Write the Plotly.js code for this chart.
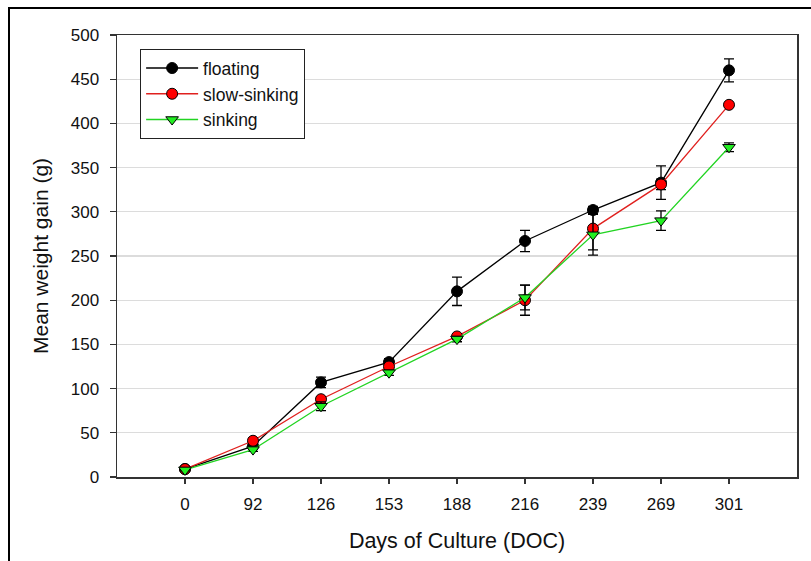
<!DOCTYPE html>
<html>
<head>
<meta charset="utf-8">
<script src="https://cdn.plot.ly/plotly-3.0.1.min.js"></script>
<style>
  html, body { margin: 0; padding: 0; background: #fff; }
  #wrap { position: relative; width: 811px; height: 561px; overflow: hidden; }
  #chart { position: absolute; left: 0; top: 0; width: 811px; height: 561px; }
  #frame { position: absolute; left: 8px; top: 7px; width: 820px; height: 580px;
           border-left: 2px solid #000; border-top: 2px solid #000; pointer-events: none; }
</style>
</head>
<body>
<div id="wrap">
  <div id="chart"></div>
  <div id="frame"></div>
</div>
<script>
const days = ["0", "92", "126", "153", "188", "216", "239", "269", "301"];

const floating     = [9, 35, 107, 130, 210, 267, 302, 333, 460];
const floatingErr  = [2, 3, 6, 4, 16, 12, 4, 19, 13];

const slowSinking    = [9, 41, 88, 125, 159, 200, 281, 331, 421];
const slowSinkingErr = [1, 3, 3, 3, 3, 17, 24, 6, 2];

const sinking    = [8, 31, 80, 118, 156, 203, 274, 290, 373];
const sinkingErr = [1, 2, 5, 3, 3, 14, 23, 11, 5];

function series(name, y, err, lineColor, fill, symbol) {
  return {
    type: "scatter", mode: "lines+markers", name: name,
    x: days, y: y,
    line: { color: lineColor, width: 1.3 },
    marker: { symbol: symbol, size: 11, color: fill, line: { color: "#000", width: 1 } },
    error_y: { type: "data", array: err, visible: true, color: "#000", thickness: 1.3, width: 5 }
  };
}

const data = [
  series("floating", floating, floatingErr, "#000000", "#000000", "circle"),
  series("slow-sinking", slowSinking, slowSinkingErr, "#e0201e", "#ff0000", "circle"),
  series("sinking", sinking, sinkingErr, "#22d422", "#22ee22", "triangle-down")
];

const layout = {
  width: 811, height: 561,
  margin: { l: 117, r: 14, t: 35, b: 84 },
  paper_bgcolor: "#fff", plot_bgcolor: "#fff",
  font: { family: "Liberation Sans, Arial, sans-serif", color: "#111" },
  showlegend: true,
  legend: {
    x: 0.034, y: 0.968, xanchor: "left", yanchor: "top",
    bordercolor: "#222", borderwidth: 1, bgcolor: "#fff",
    font: { size: 17.5, color: "#111" },
    tracegroupgap: 0, itemwidth: 52
  },
  xaxis: {
    type: "category", range: [-1, 9],
    showgrid: false, zeroline: false,
    showline: true, linecolor: "#333", linewidth: 1.5, mirror: true,
    ticks: "outside", ticklen: 5, tickcolor: "#333", tickwidth: 1.2,
    ticklabelstandoff: 6,
    tickfont: { size: 17, color: "#111" },
    title: { text: "Days of Culture (DOC)", font: { size: 21.5, color: "#111" }, standoff: 20 }
  },
  yaxis: {
    range: [0, 500], dtick: 50,
    showgrid: true, gridcolor: "#dcdcdc", gridwidth: 1.2, zeroline: false,
    showline: true, linecolor: "#333", linewidth: 1.5, mirror: true,
    ticks: "outside", ticklen: 6, tickcolor: "#333", tickwidth: 1.2,
    ticklabelstandoff: 7,
    tickfont: { size: 17, color: "#111" },
    title: { text: "Mean weight gain (g)", font: { size: 21, color: "#111" }, standoff: 16 }
  }
};

Plotly.newPlot("chart", data, layout, { displayModeBar: false, staticPlot: true });
</script>
</body>
</html>
